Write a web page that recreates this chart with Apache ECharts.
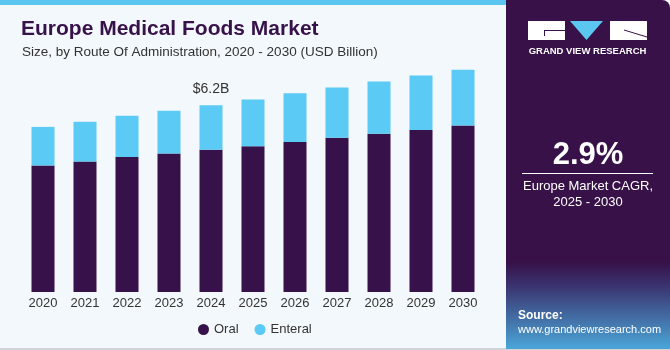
<!DOCTYPE html>
<html>
<head>
<meta charset="utf-8">
<script src="https://cdn.jsdelivr.net/npm/echarts@6/dist/echarts.min.js"></script>
<style>
html,body{margin:0;padding:0;background:#f3f8fc;}
#chart{width:670px;height:350px;}
</style>
</head>
<body>
<div id="chart"></div>
<script>
var years = ['2020','2021','2022','2023','2024','2025','2026','2027','2028','2029','2030'];
var oral = [4.20, 4.33, 4.48, 4.60, 4.72, 4.84, 4.98, 5.12, 5.25, 5.38, 5.53];
var enteral = [1.28, 1.32, 1.37, 1.42, 1.48, 1.55, 1.62, 1.67, 1.74, 1.81, 1.85];
var labelIndex = 4;
var labelText = '$6.2B';
var cagr = '2.9%';

var chart = echarts.init(document.getElementById('chart'), null, {renderer:'canvas'});
var font = '"Liberation Sans", Arial, sans-serif';

var option = {
  backgroundColor: '#f3f8fc',
  animation: false,
  title: [{
    text: 'Europe Medical Foods Market',
    left: 16, top: 14,
    textStyle: {fontFamily: font, fontSize: 21, fontWeight: 'bold', color: '#37114a'}
  },{
    text: 'Size, by Route Of Administration, 2020 - 2030 (USD Billion)',
    left: 17, top: 40,
    textStyle: {fontFamily: font, fontSize: 13.5, fontWeight: 'normal', color: '#333333'}
  }],
  grid: {left: 22, top: 51, width: 462, height: 241},
  xAxis: {
    type: 'category', data: years,
    axisLine: {show: false}, axisTick: {show: false},
    axisLabel: {fontFamily: font, fontSize: 13, color: '#333333', margin: 5}
  },
  yAxis: {
    type: 'value', min: 0, max: 8,
    show: false, splitLine: {show: false}
  },
  legend: {
    data: ['Oral','Enteral'],
    left: 193, top: 318,
    icon: 'circle', itemWidth: 11, itemHeight: 11, itemGap: 16,
    textStyle: {fontFamily: font, fontSize: 13, color: '#333333'}
  },
  series: [{
    name: 'Oral', type: 'bar', stack: 'a', data: oral, barWidth: 23,
    itemStyle: {color: '#37114a'}
  },{
    name: 'Enteral', type: 'bar', stack: 'a', barWidth: 23,
    data: enteral.map(function(v, i){
      return i === labelIndex ? {value: v, label: {show: true, position: 'top', distance: 9, formatter: labelText,
        fontFamily: font, fontSize: 14, color: '#333333'}} : v;
    }),
    itemStyle: {color: '#5bcaf5'}
  }],
  graphic: [
    {type: 'rect', shape: {x: 0, y: 0, width: 506, height: 5}, style: {fill: '#5bc6f0'}, z: 10},
    {type: 'rect', shape: {x: 0, y: 348, width: 670, height: 2}, style: {fill: '#d0d4d8'}, z: 10},
    {type: 'rect', shape: {x: 506, y: 0, width: 164, height: 349, r: [0, 8, 0, 0]},
      style: {fill: new echarts.graphic.LinearGradient(0, 0, 0, 1, [
        {offset: 0, color: '#371148'}, {offset: 0.75, color: '#371148'},
        {offset: 0.82, color: '#3b3470'}, {offset: 1, color: '#4aa6d8'}])}, z: 10},
    {type: 'rect', shape: {x: 528, y: 21, width: 37, height: 19}, style: {fill: '#ffffff'}, z: 11},
    {type: 'rect', shape: {x: 544, y: 30, width: 21, height: 1}, style: {fill: '#37114a'}, z: 12},
    {type: 'rect', shape: {x: 544, y: 30, width: 1, height: 6}, style: {fill: '#37114a'}, z: 12},
    {type: 'polygon', shape: {points: [[570, 21], [603, 21], [586.5, 40]]}, style: {fill: '#5bc6f0'}, z: 11},
    {type: 'rect', shape: {x: 610, y: 21, width: 37, height: 19}, style: {fill: '#ffffff'}, z: 11},
    {type: 'line', shape: {x1: 624, y1: 30, x2: 647, y2: 37}, style: {stroke: '#37114a', lineWidth: 1}, z: 12},
    {type: 'text', x: 587.5, y: 51, style: {text: 'GRAND VIEW RESEARCH', fill: '#ffffff', font: 'bold 9.5px ' + font, align: 'center', verticalAlign: 'middle'}, z: 11},
    {type: 'text', x: 588, y: 155, style: {text: cagr, fill: '#ffffff', font: 'bold 31px ' + font, align: 'center', verticalAlign: 'middle'}, z: 11},
    {type: 'rect', shape: {x: 522, y: 173, width: 131, height: 1}, style: {fill: '#ffffff'}, z: 11},
    {type: 'text', x: 588, y: 186, style: {text: 'Europe Market CAGR,', fill: '#ffffff', font: '13px ' + font, align: 'center', verticalAlign: 'middle'}, z: 11},
    {type: 'text', x: 588, y: 202, style: {text: '2025 - 2030', fill: '#ffffff', font: '13px ' + font, align: 'center', verticalAlign: 'middle'}, z: 11},
    {type: 'text', x: 518, y: 316, style: {text: 'Source:', fill: '#ffffff', font: 'bold 12px ' + font, align: 'left', verticalAlign: 'middle'}, z: 11},
    {type: 'text', x: 518, y: 330, style: {text: 'www.grandviewresearch.com', fill: '#ffffff', font: '11px ' + font, align: 'left', verticalAlign: 'middle'}, z: 11}
  ]
};
chart.setOption(option);
</script>
</body>
</html>
